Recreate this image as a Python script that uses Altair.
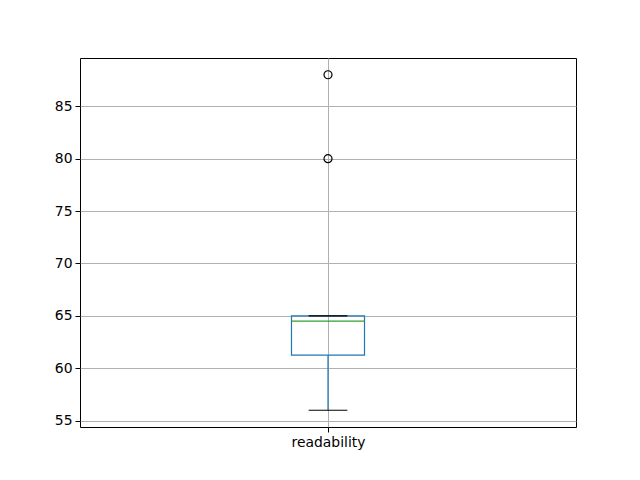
import altair as alt
import pandas as pd

categories = ["readability"]
q1 = [61.25]
median = [64.5]
q3 = [65.0]
whisker_low = [56.0]
whisker_high = [65.0]
outlier_values = [80.0, 88.0]
y_ticks = [55, 60, 65, 70, 75, 80, 85]

BOX_HALF = 0.0736
CAP_HALF = 0.039

stats = pd.DataFrame({
    "cat": categories, "q1": q1, "median": median, "q3": q3,
    "lo": whisker_low, "hi": whisker_high,
})
stats["pos"] = 1.0
stats["bx1"] = stats["pos"] - BOX_HALF
stats["bx2"] = stats["pos"] + BOX_HALF
stats["cx1"] = stats["pos"] - CAP_HALF
stats["cx2"] = stats["pos"] + CAP_HALF
outl = pd.DataFrame({"pos": [1.0] * len(outlier_values), "v": outlier_values})

xscale = alt.Scale(domain=[0.5, 1.5], nice=False, zero=False)
yscale = alt.Scale(domain=[54.4, 89.6], nice=False, zero=False)
font = "DejaVu Sans"

xaxis = alt.Axis(values=[1], labelExpr="'readability'", title=None, grid=True,
                 gridColor="#b0b0b0", gridWidth=1, tickColor="black", tickSize=5,
                 labelFont=font, labelFontSize=13.9, labelColor="black", domain=False,
                 labelPadding=3)
yaxis = alt.Axis(values=y_ticks, title=None, grid=True, gridColor="#b0b0b0", gridWidth=1,
                 tickColor="black", tickSize=5, labelFont=font, labelFontSize=13.9,
                 labelColor="black", domain=False, labelPadding=3)

base = alt.Chart(stats)

box = base.mark_rect(fill=None, stroke="#1f77b4", strokeWidth=1.2).encode(
    x=alt.X("bx1:Q", scale=xscale, axis=xaxis), x2="bx2:Q",
    y=alt.Y("q1:Q", scale=yscale, axis=yaxis), y2="q3:Q")
med = base.mark_rule(color="#2ca02c", strokeWidth=1.2).encode(
    x=alt.X("bx1:Q", scale=xscale), x2="bx2:Q", y=alt.Y("median:Q", scale=yscale))
wlo = base.mark_rule(color="#1f77b4", strokeWidth=1.2).encode(
    x=alt.X("pos:Q", scale=xscale), y=alt.Y("lo:Q", scale=yscale), y2="q1:Q")
whi = base.mark_rule(color="#1f77b4", strokeWidth=1.2).encode(
    x=alt.X("pos:Q", scale=xscale), y=alt.Y("q3:Q", scale=yscale), y2="hi:Q")
caplo = base.mark_rule(color="black", strokeWidth=1.2).encode(
    x=alt.X("cx1:Q", scale=xscale), x2="cx2:Q", y=alt.Y("lo:Q", scale=yscale))
caphi = base.mark_rule(color="black", strokeWidth=1.2).encode(
    x=alt.X("cx1:Q", scale=xscale), x2="cx2:Q", y=alt.Y("hi:Q", scale=yscale))
pts = alt.Chart(outl).mark_point(shape="circle", filled=False, stroke="black",
                                 strokeWidth=1.2, size=64, opacity=1).encode(
    x=alt.X("pos:Q", scale=xscale), y=alt.Y("v:Q", scale=yscale))

chart = alt.layer(box, med, wlo, whi, caplo, caphi, pts).properties(
    width=496, height=369,
    background="white",
    autosize=alt.AutoSizeParams(type="none"),
    padding={"left": 72, "top": 50, "right": 56, "bottom": 45},
).configure_view(stroke="black", strokeWidth=1)

chart.save("out.html", embed_options={"renderer": "svg", "actions": False})
